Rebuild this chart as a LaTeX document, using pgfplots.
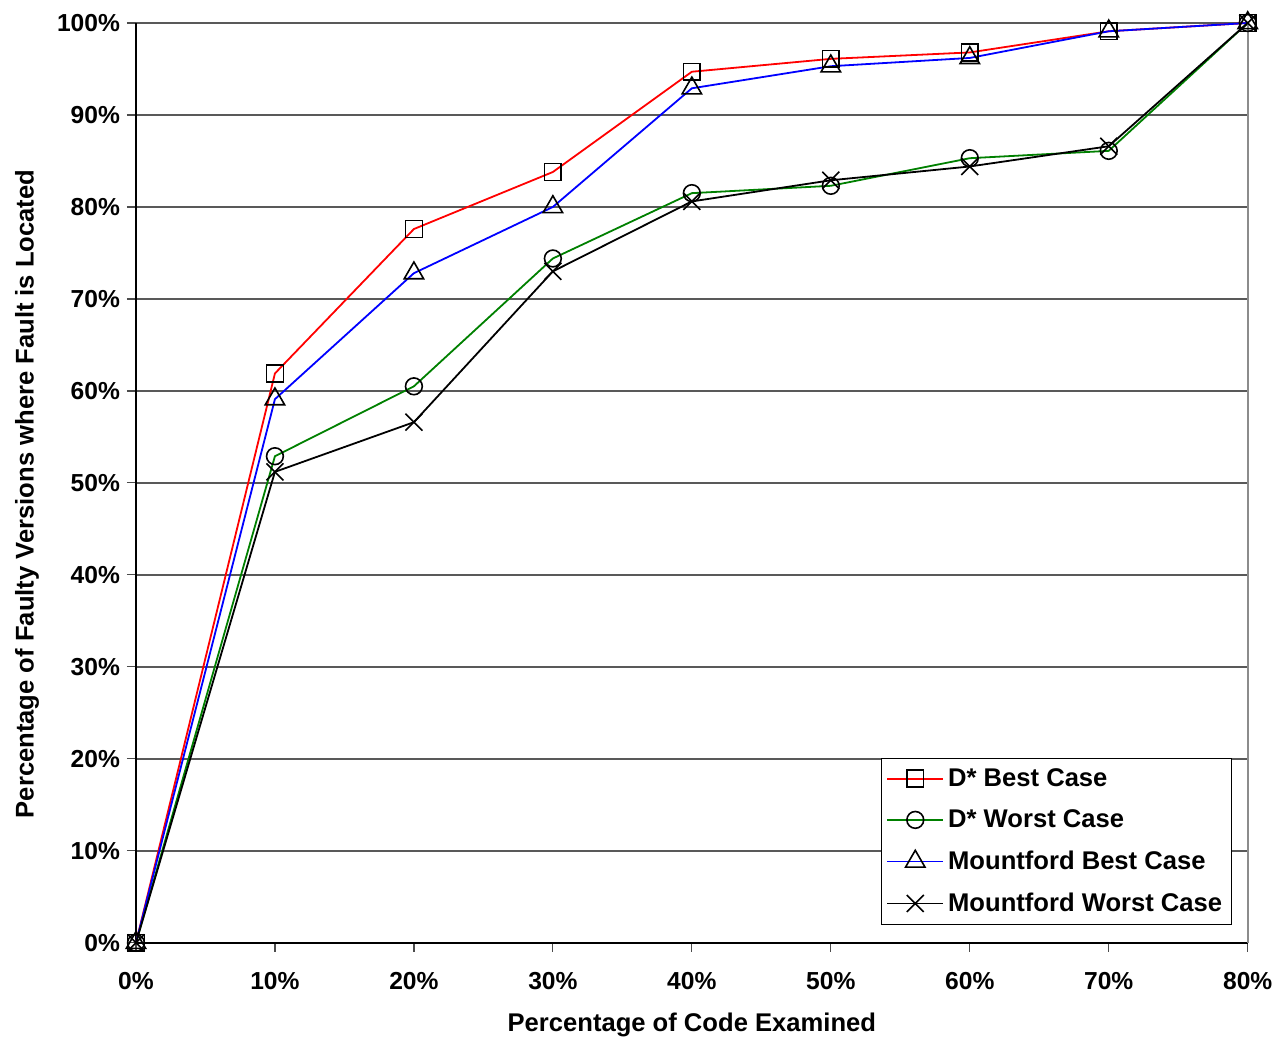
\documentclass[border=0pt]{standalone}
\usepackage{pgfplots}
\pgfplotsset{compat=1.18}
\usepackage{fontspec}
\setmainfont{Liberation Sans}

\definecolor{dgreen}{RGB}{0,128,0}

\begin{document}
\begin{tikzpicture}
\begin{axis}[
    name=ax,
    scale only axis,
    width=556pt, height=460pt,
    xmin=0, xmax=80, ymin=0, ymax=100,
    xtick={0,10,...,80}, ytick={0,10,...,100},
    xticklabel={\pgfmathprintnumber{\tick}\%},
    yticklabel={\pgfmathprintnumber{\tick}\%},
    /pgf/number format/assume math mode=true,
    tick label style={font=\fontsize{12.3}{14}\selectfont\bfseries},
    xticklabel style={yshift=-6.5pt},
    xlabel={Percentage of Code Examined},
    ylabel={Percentage of Faulty Versions where Fault is Located},
    every axis x label/.style={at={(rel axis cs:0.5,0)}, yshift=-41pt, anchor=center,
        font=\fontsize{12.8}{15}\selectfont\bfseries},
    every axis y label/.style={at={(rel axis cs:0,0.5)}, xshift=-54.5pt, yshift=-5.5pt, rotate=90, anchor=center,
        font=\fontsize{12.8}{15}\selectfont\bfseries},
    axis x line*=bottom, axis y line*=left,
    axis line style={black, line width=0.7pt, -},
    tick align=outside, major tick length=4.5pt,
    tick style={black!70, line width=0.6pt},
    ymajorgrids,
    grid style={black!65, line width=0.7pt},
    clip=false,
    legend style={
        at={(rel axis cs:1,0)}, anchor=south east, xshift=-8pt, yshift=9pt,
        draw=black, line width=0.6pt,
        font=\fontsize{12.8}{15}\selectfont\bfseries,
        row sep=6.2pt, inner xsep=2.5pt, inner ysep=3pt,
        cells={anchor=west},
    },
    legend cell align=left,
    legend image code/.code={
        \draw[mark repeat=2, mark phase=2] plot coordinates {(0pt,0pt) (14pt,0pt) (28pt,0pt)};
    },
    every axis plot/.append style={line width=0.9pt},
]

\addplot[red, mark=square, mark size=4.2pt, mark options={black, line width=0.8pt, fill=none, solid}] coordinates {
    (0,0) (10,61.9) (20,77.6) (30,83.8) (40,94.7) (50,96.1) (60,96.8) (70,99.1) (80,100)
};
\addlegendentry{D* Best Case}

\addplot[dgreen, mark=o, mark size=4.2pt, mark options={black, line width=0.8pt, fill=none, solid}] coordinates {
    (0,0) (10,52.9) (20,60.5) (30,74.4) (40,81.5) (50,82.3) (60,85.3) (70,86.1) (80,100)
};
\addlegendentry{D* Worst Case}

\addplot[blue, mark=triangle, mark size=5.6pt, mark options={black, line width=0.8pt, fill=none, solid}] coordinates {
    (0,0) (10,59.1) (20,72.8) (30,80.0) (40,92.9) (50,95.3) (60,96.2) (70,99.1) (80,100)
};
\addlegendentry{Mountford Best Case}

\addplot[black, mark=x, mark size=6pt, mark options={black, line width=0.8pt, solid}] coordinates {
    (0,0) (10,51.2) (20,56.6) (30,73.0) (40,80.6) (50,82.9) (60,84.4) (70,86.6) (80,100)
};
\addlegendentry{Mountford Worst Case}

\draw[black!45, line width=0.8pt] (rel axis cs:1,0) -- (rel axis cs:1,1);
\end{axis}
\path (ax.south west) ++(-68pt,-48pt);
\path (ax.north east) ++(15.5pt,11.5pt);
\end{tikzpicture}
\end{document}
